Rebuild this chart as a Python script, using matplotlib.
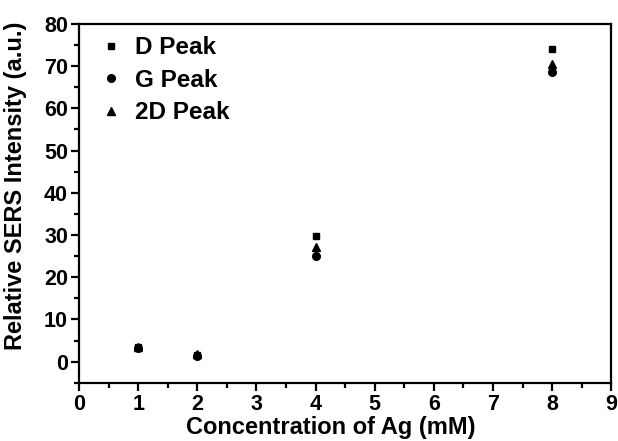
import matplotlib.pyplot as plt
from matplotlib.ticker import MultipleLocator

plt.rcParams['font.family'] = ['Liberation Sans', 'DejaVu Sans']
plt.rcParams['font.weight'] = 'bold'

# concentration of Ag (mM)
conc = [1, 2, 4, 8]
d_peak = [3.5, 1.5, 29.8, 74.0]
g_peak = [3.2, 1.3, 25.0, 68.6]
peak_2d = [3.4, 1.7, 27.2, 70.4]

fig = plt.figure(figsize=(6.18, 4.41), dpi=100)
ax = fig.add_axes([0.128, 0.132, 0.861, 0.814])

ax.plot(conc, d_peak, 's', color='black', ms=5, label='D Peak')
ax.plot(conc, g_peak, 'o', color='black', ms=5.5, label='G Peak')
ax.plot(conc, peak_2d, '^', color='black', ms=5.5, label='2D Peak')

ax.set_xlim(0, 9)
ax.set_ylim(-5, 80)
ax.xaxis.set_major_locator(MultipleLocator(1))
ax.xaxis.set_minor_locator(MultipleLocator(0.5))
ax.yaxis.set_major_locator(MultipleLocator(10))
ax.yaxis.set_minor_locator(MultipleLocator(5))

for s in ax.spines.values():
    s.set_linewidth(1.6)
ax.tick_params(which='major', direction='out', length=6, width=1.6, labelsize=15.5, pad=2)
ax.tick_params(which='minor', direction='out', length=3.5, width=1.6)

ax.set_xlabel('Concentration of Ag (mM)', fontsize=17, fontweight='bold')
ax.set_ylabel('Relative SERS Intensity (a.u.)', fontsize=17, fontweight='bold')
ax.xaxis.set_label_coords(0.472, -0.092)
ax.yaxis.set_label_coords(-0.098, 0.55)

ax.legend(loc='upper left', bbox_to_anchor=(0.0, 1.01), frameon=False,
          handletextpad=0.35, labelspacing=0.4, borderaxespad=0.25,
          handlelength=1.3, prop={'weight': 'bold', 'size': 17.5})

plt.savefig('out.png', dpi=100)
